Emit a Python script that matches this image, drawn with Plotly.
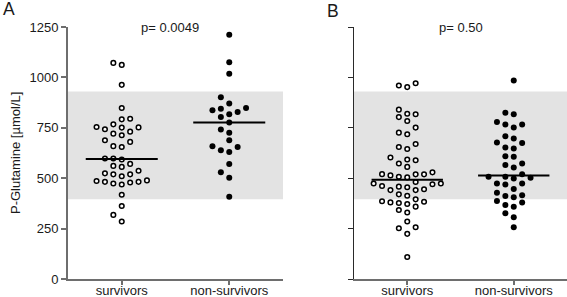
import numpy as np
import plotly.graph_objects as go

# ---------------- data ----------------
categories = ["survivors", "non-survivors"]
y_ticks = [0, 250, 500, 750, 1000, 1250]
ref_range = [395, 930]          # shaded reference interval (µmol/L)
p_values = ["p= 0.0049", "p= 0.50"]
panel_labels = ["A", "B"]

a_survivors = [1072, 1062, 963, 848, 795, 792, 767, 754, 752, 751, 743, 731,
               721, 713, 688, 680, 659, 655, 598, 598, 593, 571, 561, 556,
               537, 524, 519, 519, 510, 489, 486, 482, 482, 479, 474, 469,
               418, 362, 318, 285]
a_nonsurvivors = [1212, 1075, 1018, 902, 871, 848, 845, 837, 828, 817, 803,
                  776, 741, 726, 688, 659, 655, 639, 630, 571, 529, 502, 408]
b_survivors = [971, 960, 952, 840, 820, 817, 803, 784, 751, 726, 718, 670,
               655, 645, 603, 593, 589, 573, 556, 529, 520, 519, 519, 514,
               507, 504, 481, 474, 474, 470, 461, 458, 455, 445, 441, 441,
               420, 413, 395, 386, 383, 380, 377, 372, 359, 342, 330, 285,
               257, 252, 224, 109]
b_nonsurvivors = [985, 825, 817, 779, 766, 766, 751, 708, 697, 677, 675, 652,
                  647, 609, 606, 573, 565, 553, 520, 507, 507, 502, 499, 474,
                  474, 469, 446, 428, 416, 412, 405, 387, 379, 367, 359, 326,
                  306, 257]

# ---------------- layout constants ----------------
W, H = 567, 297
M_T, M_B = 27, 18
PLOT_H = H - M_T - M_B
A_DOM = [68 / W, 283 / W]
B_DOM = [354 / W, 1.0]
X_RANGE = [-0.5, 1.5]
Y_RANGE = [0, 1250]
FONT = "Liberation Sans, Arial, sans-serif"
TXT = "#1a1a1a"
STEP_PX = 8.4
COLL_PX = 7.0


def swarm_offsets(values, px_per_x, px_per_y):
    """Simple beeswarm: place points (ascending) at the first free column."""
    vals = np.asarray(values, dtype=float)
    order = np.argsort(vals, kind="stable")
    placed = []
    offs = np.zeros(len(vals))
    seq = [0]
    for k in range(1, 12):
        seq += [-k, k]
    for i in order:
        yp = vals[i] * px_per_y
        for k in seq:
            xp = k * STEP_PX
            if all((xp - a) ** 2 + (yp - b) ** 2 >= COLL_PX ** 2 for a, b in placed):
                break
        placed.append((xp, yp))
        offs[i] = k * STEP_PX / px_per_x
    return offs


fig = go.Figure()
px_per_y = PLOT_H / (Y_RANGE[1] - Y_RANGE[0])

panels = [
    ("x", "y", A_DOM, [a_survivors, a_nonsurvivors]),
    ("x2", "y2", B_DOM, [b_survivors, b_nonsurvivors]),
]

for xref, yref, dom, groups in panels:
    px_per_x = (dom[1] - dom[0]) * W / (X_RANGE[1] - X_RANGE[0])
    for ci, vals in enumerate(groups):
        offs = swarm_offsets(vals, px_per_x, px_per_y)
        if ci == 0:
            marker = dict(symbol="circle", size=4.6, color="white",
                          line=dict(color="black", width=1.5))
        else:
            marker = dict(symbol="circle", size=6, color="black",
                          line=dict(width=0))
        fig.add_trace(go.Scatter(x=ci + offs, y=vals, mode="markers",
                                 marker=marker, xaxis=xref, yaxis=yref,
                                 showlegend=False, hoverinfo="y"))
    for ci, vals in enumerate(groups):
        med = float(np.median(vals))
        fig.add_trace(go.Scatter(x=[ci - 0.335, ci + 0.335], y=[med, med],
                                 mode="lines", line=dict(color="black", width=2),
                                 xaxis=xref, yaxis=yref, showlegend=False,
                                 hoverinfo="skip"))
    fig.add_shape(type="rect", xref=f"{xref} domain", yref=yref,
                  x0=0, x1=1.0,
                  y0=ref_range[0], y1=ref_range[1],
                  fillcolor="#e3e3e3", line=dict(width=0), layer="below")

axis_common = dict(showgrid=False, zeroline=False, showline=True,
                   ticks="outside", tickfont=dict(family=FONT, size=13, color=TXT))

fig.update_layout(
    width=W, height=H,
    margin=dict(l=0, r=0, t=M_T, b=M_B, pad=0),
    paper_bgcolor="white", plot_bgcolor="white",
    font=dict(family=FONT, size=13, color=TXT),
    xaxis=dict(domain=A_DOM, range=X_RANGE, tickvals=[0, 1], ticktext=categories,
               linecolor="#6e6e6e", linewidth=1.8, tickcolor="#6e6e6e",
               ticklen=4, tickwidth=1.5, anchor="y", automargin=False,
               ticklabelstandoff=-6, **axis_common),
    yaxis=dict(domain=[0, 1], range=Y_RANGE, tickvals=y_ticks,
               linecolor="#6e6e6e", linewidth=1.8, tickcolor="#6e6e6e",
               ticklen=5, tickwidth=1.5, anchor="x", automargin=False, **axis_common),
    xaxis2=dict(domain=B_DOM, range=X_RANGE, tickvals=[0, 1], ticktext=categories,
                linecolor="#6e6e6e", linewidth=1.8, tickcolor="#6e6e6e",
                ticklen=4, tickwidth=1.5, anchor="y2", automargin=False,
                ticklabelstandoff=-6, **axis_common),
    yaxis2=dict(domain=[0, 1], range=Y_RANGE, tickvals=y_ticks, showticklabels=False,
                linecolor="#2a2a2a", linewidth=1.3, tickcolor="#2a2a2a",
                ticklen=5, tickwidth=1.2, anchor="x2", automargin=False, **axis_common),
)

ann_font = dict(family=FONT, size=13, color=TXT)
fig.add_annotation(text=p_values[0], xref="x", yref="paper", x=0.45,
                   y=1 + (M_T - 27) / PLOT_H, showarrow=False, font=ann_font,
                   xanchor="center", yanchor="middle")
fig.add_annotation(text=p_values[1], xref="x2", yref="paper", x=0.5,
                   y=1 + (M_T - 27) / PLOT_H, showarrow=False, font=ann_font,
                   xanchor="center", yanchor="middle")
fig.add_annotation(text=panel_labels[0], xref="paper", yref="paper", x=1 / W,
                   y=1 + (M_T - 8.5) / PLOT_H, showarrow=False,
                   font=dict(family=FONT, size=17.5, color=TXT),
                   xanchor="left", yanchor="middle")
fig.add_annotation(text=panel_labels[1], xref="paper", yref="paper", x=325 / W,
                   y=1 + (M_T - 11) / PLOT_H, showarrow=False,
                   font=dict(family=FONT, size=17.5, color=TXT),
                   xanchor="left", yanchor="middle")
fig.add_annotation(text="P-Glutamine [µmol/L]", xref="paper", yref="paper",
                   x=15 / W, y=0.5, textangle=-90, showarrow=False,
                   font=ann_font, xanchor="center", yanchor="middle")

fig.write_html("out.html",
               config={"displayModeBar": False},
               post_script="document.body.style.margin='0px';"
                           "document.body.style.overflow='hidden';")
